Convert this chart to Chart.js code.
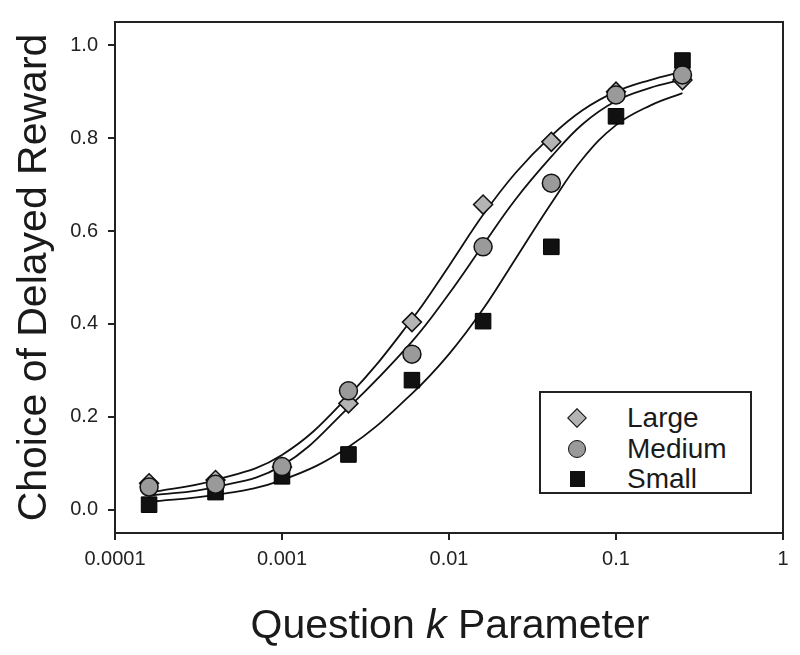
<!DOCTYPE html>
<html>
<head>
<meta charset="utf-8">
<title>Choice of Delayed Reward</title>
<script src="https://cdn.jsdelivr.net/npm/chart.js"></script>
<style>
    body { margin: 0; background: #fff; }
    #wrap { position: relative; width: 800px; height: 655px; font-family: 'Liberation Sans', Arial, sans-serif; color: #1a1a1a; }
    #chart { position: absolute; left: 0; top: 0; }
    #xTitle { position: absolute; left: 450px; top: 600px; transform: translateX(-50%); font-size: 41px; line-height: 48px; white-space: nowrap; }
    #legend { position: absolute; left: 539px; top: 391px; width: 209px; height: 99px; border: 2px solid #222; background: #fff; }
    .row { position: absolute; left: 0; width: 100%; height: 30px; }
    .row span.lbl { position: absolute; left: 86px; top: 0; font-size: 28px; line-height: 30px; }
    .mk { position: absolute; box-sizing: border-box; border: 1.5px solid #111; }
</style>
</head>
<body>
<div id="wrap">
    <canvas id="chart" width="800" height="655"></canvas>
    <div id="xTitle">Question <i>k</i> Parameter</div>
    <div id="legend"></div>
</div>
<script>
// question k values (x) for the observed points
const kValues = [0.00016, 0.0004, 0.001, 0.0025, 0.006, 0.016, 0.041, 0.1, 0.25];

// proportion choosing the delayed reward
const largeValues  = [0.057, 0.064, 0.092, 0.229, 0.404, 0.657, 0.792, 0.900, 0.925];
const mediumValues = [0.049, 0.055, 0.093, 0.256, 0.335, 0.566, 0.703, 0.893, 0.936];
const smallValues  = [0.011, 0.038, 0.072, 0.119, 0.279, 0.406, 0.566, 0.847, 0.967];

// fitted curves, read at these k values
const fitK         = [0.00016, 0.0004, 0.001, 0.0025, 0.006, 0.01, 0.016, 0.025, 0.041, 0.063, 0.1, 0.16, 0.25];
const largeFit     = [0.037, 0.064, 0.118, 0.245, 0.410, 0.525, 0.635, 0.725, 0.805, 0.860, 0.900, 0.925, 0.943];
const mediumFit    = [0.030, 0.049, 0.095, 0.220, 0.362, 0.465, 0.570, 0.668, 0.760, 0.830, 0.880, 0.908, 0.926];
const smallFit     = [0.017, 0.032, 0.064, 0.135, 0.250, 0.335, 0.432, 0.540, 0.660, 0.755, 0.828, 0.870, 0.897];

const seriesNames = ['Large', 'Medium', 'Small'];

const xTicks = [0.0001, 0.001, 0.01, 0.1, 1];
const xTickLabels = ['0.0001', '0.001', '0.01', '0.1', '1'];
const yTicks = [0, 0.2, 0.4, 0.6, 0.8, 1.0];
const yTickLabels = ['0.0', '0.2', '0.4', '0.6', '0.8', '1.0'];

const FONT = "'Liberation Sans', Arial, sans-serif";

const toPoints = (xs, ys) => xs.map((x, i) => ({ x: x, y: ys[i] }));

const fitLine = (vals) => ({
    data: toPoints(fitK, vals),
    showLine: true,
    borderColor: '#111',
    borderWidth: 1.8,
    pointRadius: 0,
    tension: 0.4,
    order: 3
});

// box round the plot area
const framePlugin = {
    id: 'frame',
    beforeDatasetsDraw(chart) {
        const { ctx, chartArea: a } = chart;
        ctx.save();
        ctx.strokeStyle = '#222';
        ctx.lineWidth = 2;
        ctx.strokeRect(a.left, a.top, a.right - a.left, a.bottom - a.top);
        ctx.restore();
    }
};

new Chart(document.getElementById('chart'), {
    type: 'scatter',
    data: {
        datasets: [
            fitLine(largeFit),
            fitLine(mediumFit),
            fitLine(smallFit),
            {
                label: seriesNames[2],
                data: toPoints(kValues, smallValues),
                pointStyle: 'rect',
                pointRadius: 11,
                backgroundColor: '#111',
                borderColor: '#000',
                borderWidth: 1,
                order: 2
            },
            {
                label: seriesNames[0],
                data: toPoints(kValues, largeValues),
                pointStyle: 'rectRot',
                pointRadius: 9.5,
                backgroundColor: '#b4b4b4',
                borderColor: '#111',
                borderWidth: 1.5,
                order: 1
            },
            {
                label: seriesNames[1],
                data: toPoints(kValues, mediumValues),
                pointStyle: 'circle',
                pointRadius: 9,
                backgroundColor: '#9a9a9a',
                borderColor: '#111',
                borderWidth: 1.5,
                order: 0
            }
        ]
    },
    options: {
        responsive: false,
        animation: false,
        layout: { padding: { top: 15, right: 17, left: 0, bottom: 0 } },
        plugins: {
            legend: { display: false },
            tooltip: { enabled: false }
        },
        scales: {
            x: {
                type: 'logarithmic',
                min: 0.0001,
                max: 1,
                afterBuildTicks: (scale) => { scale.ticks = xTicks.map(v => ({ value: v })); },
                afterFit: (scale) => { scale.height = 122; },
                grid: { drawOnChartArea: false, drawTicks: true, tickLength: 7, tickColor: '#222', lineWidth: 2 },
                border: { display: true, color: '#222', width: 2 },
                ticks: {
                    autoSkip: false,
                    maxRotation: 0,
                    padding: 7,
                    color: '#222',
                    font: { family: FONT, size: 20 },
                    callback: (v, i) => xTickLabels[i]
                }
            },
            y: {
                min: -0.05,
                max: 1.05,
                afterBuildTicks: (scale) => { scale.ticks = yTicks.map(v => ({ value: v })); },
                afterFit: (scale) => { scale.width = 115; },
                grid: { drawOnChartArea: false, drawTicks: true, tickLength: 7, tickColor: '#222', lineWidth: 2 },
                border: { display: true, color: '#222', width: 2 },
                ticks: {
                    padding: 10,
                    color: '#222',
                    font: { family: FONT, size: 20 },
                    callback: (v, i) => yTickLabels[i]
                },
                title: {
                    display: true,
                    text: 'Choice of Delayed Reward',
                    color: '#1a1a1a',
                    font: { family: FONT, size: 41 },
                    padding: { top: 10, bottom: 0 }
                }
            }
        }
    },
    plugins: [framePlugin]
});

// legend box inside the plot
const legendMarkers = [
    { w: 14, h: 14, bg: '#b4b4b4', css: 'transform: rotate(45deg);' },
    { w: 18, h: 18, bg: '#9a9a9a', css: 'border-radius: 50%;' },
    { w: 15, h: 16, bg: '#111', css: '' }
];
const legendRowTops = [10, 41, 71];
const legend = document.getElementById('legend');
seriesNames.forEach((name, i) => {
    const m = legendMarkers[i];
    const row = document.createElement('div');
    row.className = 'row';
    row.style.top = legendRowTops[i] + 'px';
    row.innerHTML = `
        <div class="mk" style="left:${36 - m.w / 2}px; top:${15 - m.h / 2}px; width:${m.w}px; height:${m.h}px; background:${m.bg}; ${m.css}"></div>
        <span class="lbl">${name}</span>
    `;
    legend.appendChild(row);
});
</script>
</body>
</html>
